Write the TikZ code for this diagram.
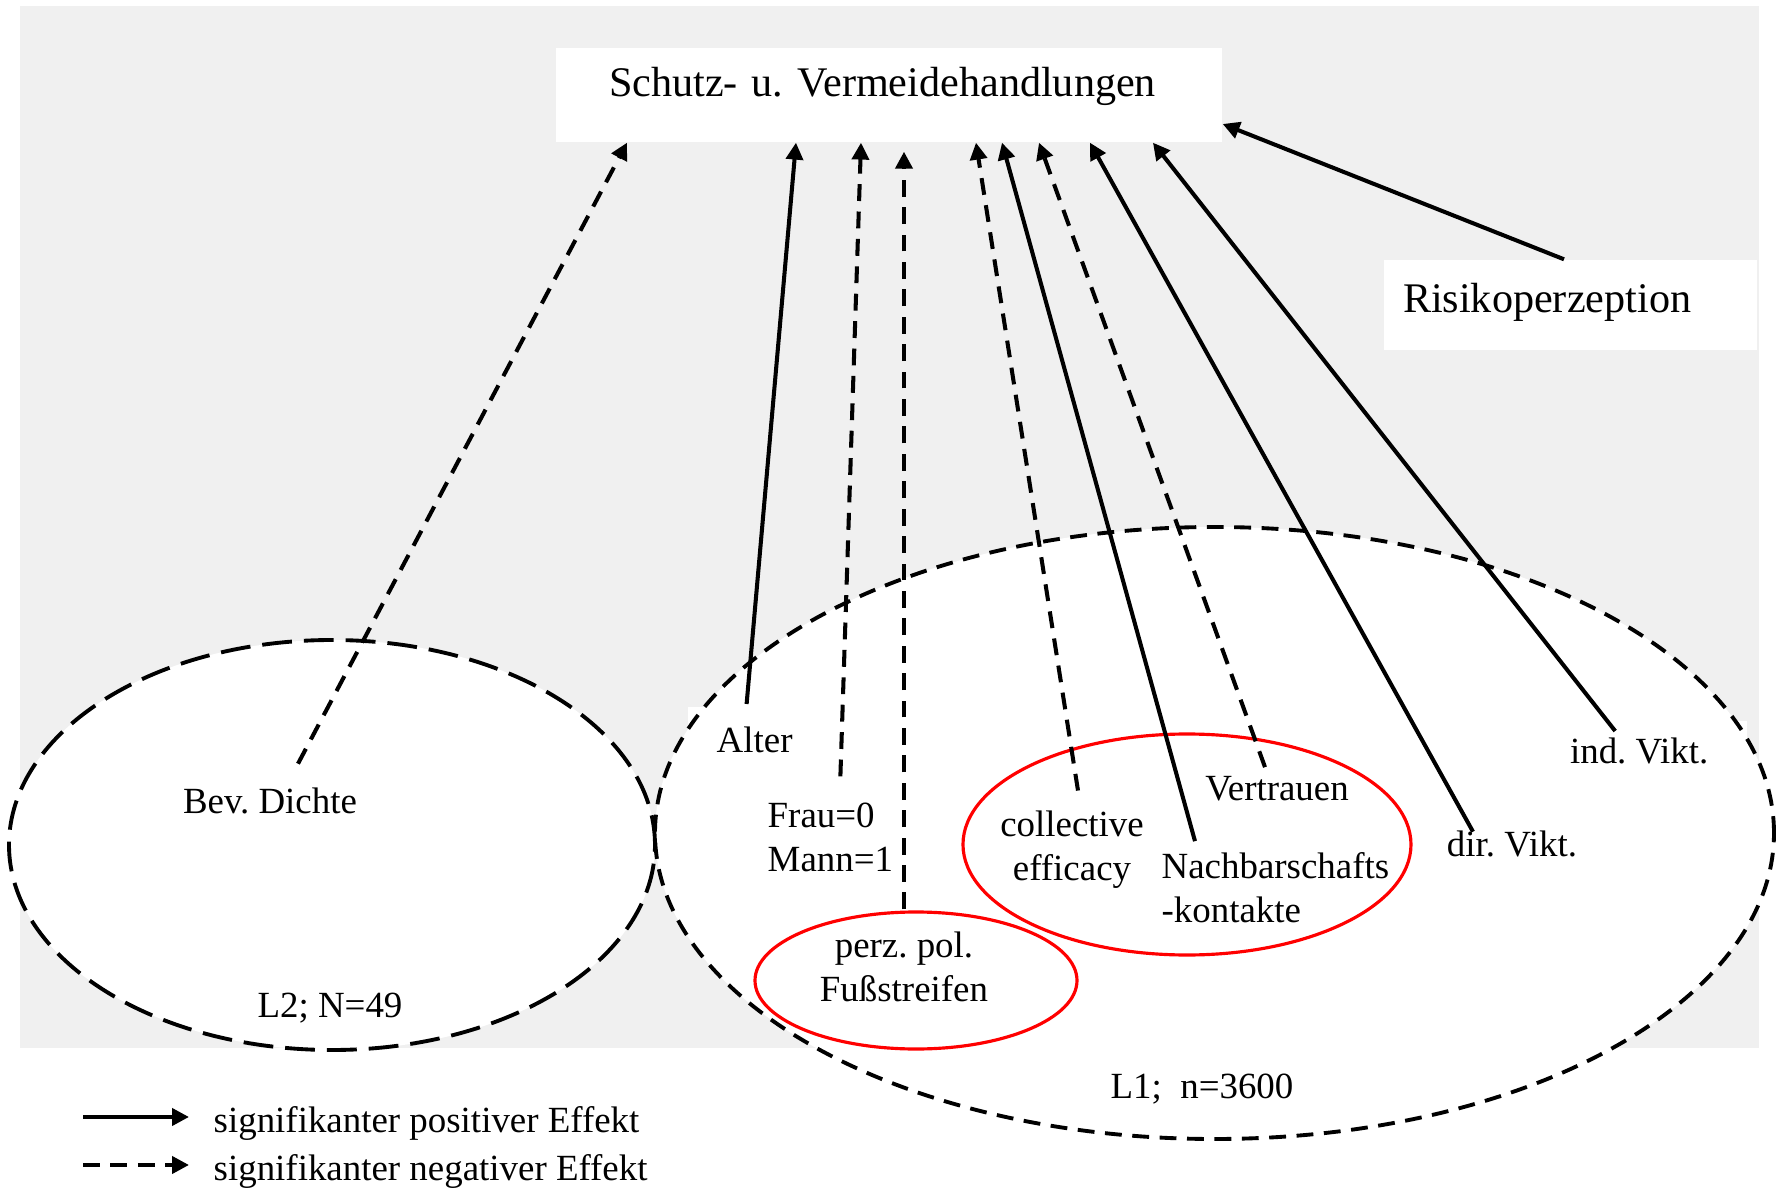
\documentclass[tikz,border=0pt]{standalone}
\usepackage{fontspec}
\setmainfont{Liberation Serif}
\usepackage{tikz}
\usetikzlibrary{arrows.meta,shapes,backgrounds}
\definecolor{bggray}{RGB}{240,240,240}
\frenchspacing

\begin{document}
\begin{tikzpicture}
	\tikzstyle{every node} = [rectangle, inner sep=0pt, font=\fontsize{10.5}{12.5}\selectfont]
	\tikzstyle{bigbox} = [fill=white, align=left, font=\fontsize{12}{14}\selectfont]
	\tikzstyle{posarr} = [-{Triangle[length=4.8pt,width=4.8pt]}, line width=1.15pt]
	\tikzstyle{negarr} = [posarr, dash pattern=on 4.8pt off 3pt]
	\useasboundingbox (0,0) rectangle (17.77,11.91);
	\fill[bggray] (0.20,1.43) rectangle (17.59,11.85);
	\fill[white] (3.32,3.46) ellipse (3.23 and 2.05);
	\fill[white] (12.145,3.58) ellipse (5.595 and 3.06);
	\node[bigbox, text width=5.60cm, inner xsep=0.53cm, inner ysep=0.18cm, text height=0.31cm, text depth=0.27cm] (schutz) at (8.89,10.96) {Schutz- u. Vermeidehandlungen};
	\node[bigbox, text width=3.35cm, inner xsep=0.19cm, inner ysep=0.20cm, text height=0.32cm, text depth=0.18cm] (risiko) at (15.705,8.86) {Risikoperzeption};
	\node[fill=white, anchor=north west, inner xsep=0.29cm, inner ysep=0.21cm, text height=0.25cm, text depth=0.08cm] (alter) at (6.87,4.85) {Alter};
	\node[fill=white, anchor=north east, inner xsep=0.39cm, inner ysep=0.18cm, text height=0.25cm, text depth=0.08cm] (indv) at (17.48,4.71) {ind. Vikt.};
	\draw[line width=1.1pt, dash pattern=on 8.5pt off 3.4pt] (3.32,3.46) ellipse (3.23 and 2.05);
	\draw[line width=1.1pt, dash pattern=on 4.8pt off 3pt] (12.145,3.58) ellipse (5.595 and 3.06);
	\draw[red, line width=0.9pt] (9.16,2.105) ellipse (1.61 and 0.685);
	\draw[red, line width=0.9pt] (11.87,3.465) ellipse (2.24 and 1.105);
	\node[anchor=base] (bev) at (2.70,3.78) {Bev. Dichte};
	\node[anchor=base] (ltwo) at (3.30,1.74) {L2; N=49};
	\node[anchor=west, align=left] (frau) at (7.67,3.535) {Frau=0\\Mann=1};
	\node[align=center] (perz) at (9.04,2.24) {perz. pol.\\Fußstreifen};
	\node[align=center] (coll) at (10.72,3.41) {collective\\efficacy};
	\node[anchor=west, align=left] (nachbar) at (11.61,3.03) {Nachbarschafts\\-kontakte};
	\node[anchor=base] (vertrauen) at (12.77,3.91) {Vertrauen};
	\node[anchor=base] (dirv) at (15.12,3.35) {dir. Vikt.};
	\node[anchor=base] (lone) at (12.02,0.93) {L1;~~n=3600};
	\draw[negarr] ([xshift=0.28cm,yshift=0.23cm]bev.north) -- ([xshift=-2.62cm]schutz.south);
	\draw[posarr] ([xshift=-0.08cm,yshift=0.02cm]alter.north) -- ([xshift=-0.93cm]schutz.south);
	\draw[negarr] ([xshift=0.10cm,yshift=0.26cm]frau.north) -- ([xshift=-0.28cm]schutz.south);
	\draw[negarr] ([yshift=0.22cm]perz.north) -- ([xshift=0.15cm,yshift=-0.09cm]schutz.south);
	\draw[negarr] ([xshift=0.06cm,yshift=0.20cm]coll.north) -- ([xshift=0.87cm]schutz.south);
	\draw[posarr] ([xshift=0.34cm,yshift=0.11cm]nachbar.north west) -- ([xshift=1.13cm]schutz.south);
	\draw[negarr] ([xshift=-0.12cm,yshift=0.08cm]vertrauen.north) -- ([xshift=1.50cm]schutz.south);
	\draw[posarr] ([xshift=-0.39cm,yshift=-0.02cm]dirv.north) -- ([xshift=2.01cm]schutz.south);
	\draw[posarr] ([xshift=-0.24cm,yshift=-0.11cm]indv.north) -- ([xshift=2.64cm]schutz.south);
	\draw[posarr] ([xshift=-0.065cm]risiko.north) -- ([yshift=-0.29cm]schutz.east);
	\node[anchor=base west] (legpos) at (2.13,0.59) {signifikanter positiver Effekt};
	\node[anchor=base west] (legneg) at (2.13,0.11) {signifikanter negativer Effekt};
	\draw[posarr] ([xshift=-1.30cm,yshift=0.06cm]legpos.west) -- ([xshift=-0.24cm,yshift=0.06cm]legpos.west);
	\draw[negarr] ([xshift=-1.30cm,yshift=0.06cm]legneg.west) -- ([xshift=-0.24cm,yshift=0.06cm]legneg.west);
\end{tikzpicture}
\end{document}
